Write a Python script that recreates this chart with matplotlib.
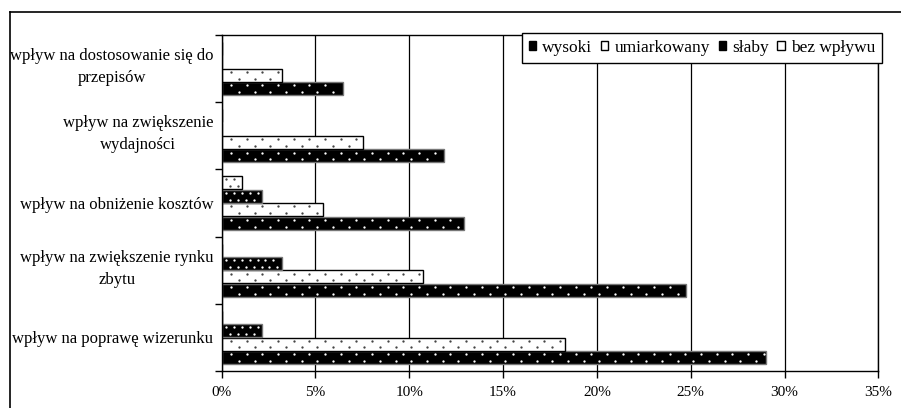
import matplotlib.pyplot as plt
import matplotlib.patches as patches
import matplotlib.transforms as mtransforms
from matplotlib.lines import Line2D
import numpy as np

plt.rcParams['font.family'] = ['Liberation Serif', 'DejaVu Serif']

# categories from top to bottom
categories = ['wpływ na dostosowanie się do\nprzepisów',
              'wpływ na zwiększenie\nwydajności',
              'wpływ na obniżenie kosztów',
              'wpływ na zwiększenie rynku\nzbytu',
              'wpływ na poprawę wizerunku']
# % of answers
wysoki = [6.45, 11.83, 12.90, 24.73, 29.03]
umiarkowany = [3.23, 7.53, 5.38, 10.75, 18.28]
slaby = [0, 0, 2.15, 3.23, 2.15]
bez_wplywu = [0, 0, 1.08, 0, 0]
series_names = ['wysoki', 'umiarkowany', 'słaby', 'bez wpływu']
x_ticks = [0, 5, 10, 15, 20, 25, 30, 35]

fig = plt.figure(figsize=(9.01, 4.08), dpi=100)
ax = fig.add_axes([0.246, 0.0907, 0.7289, 0.8235])

y = np.arange(len(categories))
h = 0.193
# name, values, offset in group, face, dot colour, dot step (%), outline
styles = [
    ('wysoki', wysoki, 0.3, 'black', 'white', 0.835, '#777777'),
    ('umiarkowany', umiarkowany, 0.1, 'white', '#444444', 0.835, 'black'),
    ('słaby', slaby, -0.1, 'black', 'white', 0.417, '#777777'),
    ('bez wpływu', bez_wplywu, -0.3, 'white', '#444444', 0.417, 'black'),
]
handles = []
for name, vals, off, face, dots, step, edge in styles:
    ax.barh(y + off, vals, height=h, color=face, edgecolor=edge,
            linewidth=1, zorder=2)
    # dotted fill pattern, two staggered rows per bar
    px, py = [], []
    for yi, v in zip(y, vals):
        for row, shift in ((-0.05, 0.0), (0.05, 0.5)):
            xs = np.arange(step * (0.6 + shift), v - 0.12, step)
            px.extend(xs)
            py.extend([yi + off + row] * len(xs))
    ax.scatter(px, py, s=2.8, color=dots, linewidths=0, zorder=3)
    handles.append(patches.Patch(facecolor=face, edgecolor='black', linewidth=1))

ax.set_xlim(0, 35)
ax.set_ylim(len(categories) - 0.5, -0.5)
ax.set_xticks(x_ticks)
ax.set_xticklabels([f'{v}%' for v in x_ticks])
ax.set_yticks(np.arange(len(categories) + 1) - 0.5)
ax.set_yticklabels([])
ax.tick_params(axis='y', length=5, width=1, direction='out')
ax.tick_params(axis='x', length=5, width=1, pad=6, labelsize=11)

# category labels, right aligned, centred lines
lab_tr = mtransforms.blended_transform_factory(ax.transAxes, ax.transData)
for yi, lab in zip(y, categories):
    dy = -0.02 if '\n' in lab else 0.03
    ax.text(-0.0125, yi + dy, lab, transform=lab_tr, ha='right', va='center',
            multialignment='center', linespacing=1.5, fontsize=12)

ax.grid(axis='x', color='black', linewidth=0.9)
ax.set_axisbelow(True)
for s in ax.spines.values():
    s.set_linewidth(1)
    s.set_color('black')

leg = ax.legend(handles, series_names, loc='upper right',
                bbox_to_anchor=(882 / 901, 1 - 33 / 408), bbox_transform=fig.transFigure,
                ncol=4, fontsize=12.5, fancybox=False, edgecolor='black', framealpha=1,
                handlelength=0.42, handleheight=0.42, handletextpad=0.35,
                columnspacing=0.5, borderpad=0.4, borderaxespad=0)
leg.get_frame().set_linewidth(1)
leg.set_zorder(10)

# outer chart border (only top and left visible)
fig.add_artist(Line2D([9.5 / 901, 9.5 / 901], [0, 1 - 11.5 / 408], transform=fig.transFigure,
                      color='black', linewidth=1.2))
fig.add_artist(Line2D([9.5 / 901, 1], [1 - 11.5 / 408, 1 - 11.5 / 408], transform=fig.transFigure,
                      color='black', linewidth=1.2))

fig.savefig('out.png', dpi=100)
